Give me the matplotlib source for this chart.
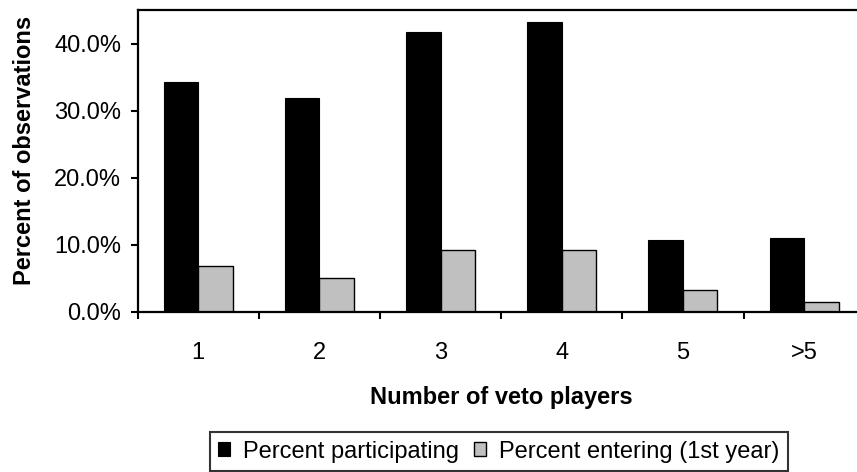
import matplotlib
matplotlib.use("Agg")
import matplotlib.pyplot as plt
import numpy as np

plt.rcParams["font.family"] = ["Liberation Sans", "DejaVu Sans"]

categories = ["1", "2", "3", "4", "5", ">5"]
participating = [34.3, 31.9, 41.7, 43.2, 10.7, 11.0]
entering = [6.8, 5.0, 9.2, 9.2, 3.2, 1.4]
yticks = [0, 10, 20, 30, 40]

FS = 17

fig = plt.figure(figsize=(8.57, 4.72), dpi=100)
ax = fig.add_axes([137.7 / 857, 1 - 311.7 / 472, 727 / 857, 301.7 / 472])

x = np.arange(len(categories))
bw = 0.285
ax.bar(x - bw / 2, participating, bw, color="black", edgecolor="black", lw=0.8,
       label="Percent participating")
ax.bar(x + bw / 2, entering, bw, color="#c0c0c0", edgecolor="black", lw=1.0,
       label="Percent entering (1st year)")

ax.set_xlim(-0.5, len(categories) - 0.5)
ax.set_ylim(0, 45)
ax.set_yticks(yticks)
ax.set_yticklabels([f"{v:.1f}%" for v in yticks])

# category boundaries get tick marks, centres get labels
ax.set_xticks(np.arange(len(categories) + 1) - 0.5)
ax.set_xticklabels([])
ax.set_xticks(x, minor=True)
ax.set_xticklabels(categories, minor=True)
ax.tick_params(axis="x", which="major", direction="out", length=5, width=1.5)
ax.tick_params(axis="x", which="minor", length=0, pad=22, labelsize=FS)
ax.tick_params(axis="y", direction="out", length=5, width=1.5, pad=7, labelsize=FS)

for s in ax.spines.values():
    s.set_linewidth(1.6)

ax.set_xlabel("Number of veto players", fontsize=FS, fontweight="bold", labelpad=16)
ax.set_ylabel("Percent of observations", fontsize=FS, fontweight="bold")
ax.yaxis.set_label_coords(-0.140, 0.536)

leg = fig.legend(loc="lower center", bbox_to_anchor=(499 / 857, 0.0), ncol=2,
                 frameon=True, fancybox=False, fontsize=FS, handlelength=0.5,
                 handleheight=0.5, handletextpad=0.55, columnspacing=0.65,
                 borderpad=0.35, borderaxespad=0.05)
leg.get_frame().set_edgecolor("black")
leg.get_frame().set_linewidth(1.5)

fig.savefig("out.png", dpi=100)
